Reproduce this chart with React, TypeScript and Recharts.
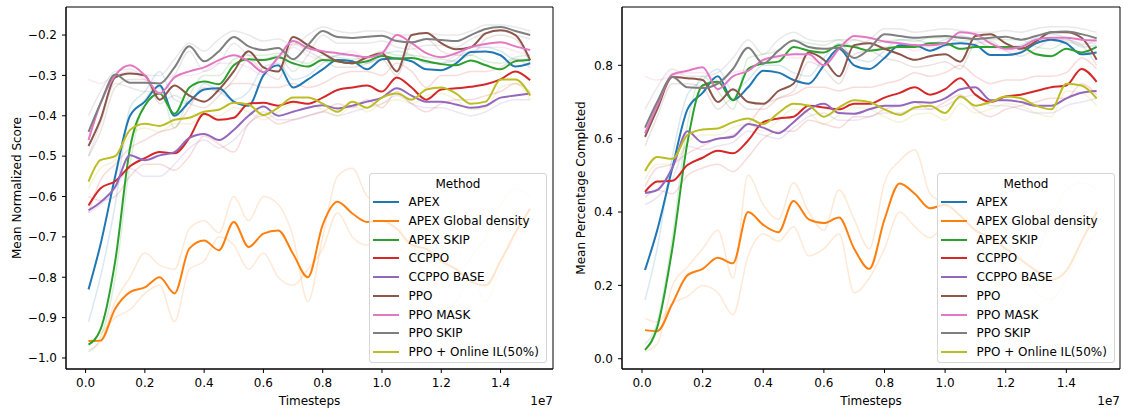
import { LineChart, Line, XAxis, YAxis, Legend, ReferenceArea } from "recharts";

const FONT = "DejaVu Sans, sans-serif";

const TIMESTEPS = [0.01, 0.05, 0.1, 0.15, 0.2, 0.25, 0.3, 0.35, 0.4, 0.45, 0.5, 0.55, 0.6, 0.65, 0.7, 0.75, 0.8, 0.85, 0.9, 0.95, 1.0, 1.05, 1.1, 1.15, 1.2, 1.25, 1.3, 1.35, 1.4, 1.45, 1.5];
const X_TICKS = [0, 0.2, 0.4, 0.6, 0.8, 1.0, 1.2, 1.4];
const X_DOMAIN = [-0.066, 1.577];
const SCORE_TICKS = [-1.0, -0.9, -0.8, -0.7, -0.6, -0.5, -0.4, -0.3, -0.2];
const PCT_TICKS = [0, 0.2, 0.4, 0.6, 0.8];

const METHODS = ["APEX", "APEX Global density", "APEX SKIP", "CCPPO", "CCPPO BASE", "PPO", "PPO MASK", "PPO SKIP", "PPO + Online IL(50%)"];
const COLORS = ["#1f77b4", "#ff7f0e", "#2ca02c", "#d62728", "#9467bd", "#8c564b", "#e377c2", "#7f7f7f", "#bcbd22"];

// Mean Normalized Score (left), smoothed mean per method
const SCORE_APEX = [-0.83, -0.72, -0.55, -0.40, -0.365, -0.325, -0.40, -0.365, -0.335, -0.332, -0.365, -0.375, -0.30, -0.275, -0.33, -0.31, -0.285, -0.262, -0.265, -0.285, -0.26, -0.258, -0.265, -0.285, -0.287, -0.27, -0.242, -0.241, -0.25, -0.278, -0.27];
const SCORE_APEX_GLOBAL = [-0.958, -0.957, -0.878, -0.837, -0.825, -0.80, -0.84, -0.729, -0.709, -0.733, -0.663, -0.725, -0.692, -0.684, -0.742, -0.80, -0.67, -0.613, -0.642, -0.663, -0.66, -0.68, -0.72, -0.73, -0.76, -0.78, -0.81, -0.82, -0.76, -0.69, -0.63];
const SCORE_APEX_SKIP = [-0.967, -0.93, -0.76, -0.48, -0.375, -0.345, -0.395, -0.33, -0.315, -0.322, -0.275, -0.26, -0.262, -0.255, -0.27, -0.278, -0.262, -0.265, -0.27, -0.265, -0.252, -0.258, -0.257, -0.265, -0.272, -0.275, -0.263, -0.275, -0.285, -0.265, -0.262];
const SCORE_CCPPO = [-0.622, -0.58, -0.562, -0.525, -0.505, -0.49, -0.493, -0.455, -0.395, -0.41, -0.405, -0.37, -0.368, -0.375, -0.365, -0.37, -0.355, -0.336, -0.33, -0.325, -0.34, -0.305, -0.33, -0.36, -0.335, -0.332, -0.328, -0.322, -0.31, -0.29, -0.312];
const SCORE_CCPPO_BASE = [-0.634, -0.614, -0.576, -0.498, -0.51, -0.498, -0.49, -0.455, -0.445, -0.46, -0.435, -0.40, -0.377, -0.40, -0.39, -0.38, -0.374, -0.382, -0.375, -0.365, -0.355, -0.332, -0.35, -0.365, -0.365, -0.372, -0.38, -0.375, -0.355, -0.35, -0.345];
const SCORE_PPO = [-0.475, -0.41, -0.305, -0.295, -0.30, -0.36, -0.325, -0.35, -0.365, -0.335, -0.29, -0.24, -0.28, -0.29, -0.205, -0.225, -0.245, -0.265, -0.27, -0.255, -0.245, -0.29, -0.20, -0.195, -0.22, -0.235, -0.23, -0.196, -0.188, -0.20, -0.262];
const SCORE_PPO_MASK = [-0.46, -0.37, -0.30, -0.275, -0.30, -0.345, -0.305, -0.29, -0.28, -0.262, -0.25, -0.265, -0.292, -0.255, -0.215, -0.232, -0.24, -0.245, -0.25, -0.255, -0.245, -0.20, -0.22, -0.245, -0.255, -0.245, -0.23, -0.222, -0.218, -0.228, -0.237];
const SCORE_PPO_SKIP = [-0.44, -0.37, -0.298, -0.318, -0.318, -0.32, -0.28, -0.228, -0.265, -0.24, -0.205, -0.228, -0.237, -0.232, -0.26, -0.225, -0.19, -0.205, -0.207, -0.204, -0.202, -0.215, -0.218, -0.21, -0.212, -0.215, -0.2, -0.185, -0.18, -0.19, -0.2];
const SCORE_PPO_IL = [-0.563, -0.51, -0.50, -0.435, -0.42, -0.425, -0.41, -0.405, -0.39, -0.385, -0.368, -0.372, -0.398, -0.38, -0.355, -0.355, -0.37, -0.39, -0.365, -0.38, -0.355, -0.345, -0.36, -0.335, -0.33, -0.345, -0.37, -0.365, -0.31, -0.31, -0.35];

// individual runs, drawn faint
const SCORE_GLOBAL_RUN_A = [-0.98, -0.96, -0.86, -0.80, -0.74, -0.77, -0.78, -0.68, -0.66, -0.69, -0.60, -0.66, -0.60, -0.62, -0.70, -0.86, -0.70, -0.55, -0.53, -0.60, -0.62, -0.66, -0.74, -0.76, -0.78, -0.80, -0.75, -0.70, -0.62, -0.58, -0.60];
const SCORE_GLOBAL_RUN_B = [-0.96, -0.94, -0.90, -0.88, -0.84, -0.82, -0.91, -0.78, -0.76, -0.70, -0.72, -0.78, -0.74, -0.80, -0.82, -0.78, -0.73, -0.64, -0.70, -0.72, -0.68, -0.74, -0.70, -0.84, -0.88, -0.86, -0.80, -0.86, -0.78, -0.70, -0.68];
const SCORE_SKIP_RUN_A = [-0.40, -0.34, -0.29, -0.285, -0.30, -0.30, -0.26, -0.22, -0.24, -0.21, -0.19, -0.20, -0.215, -0.21, -0.225, -0.20, -0.18, -0.19, -0.195, -0.19, -0.19, -0.20, -0.2, -0.195, -0.2, -0.2, -0.19, -0.175, -0.175, -0.18, -0.19];
const SCORE_SKIP_RUN_B = [-0.50, -0.42, -0.32, -0.33, -0.34, -0.34, -0.30, -0.24, -0.29, -0.27, -0.22, -0.25, -0.26, -0.25, -0.29, -0.25, -0.2, -0.22, -0.22, -0.22, -0.215, -0.23, -0.235, -0.225, -0.225, -0.23, -0.21, -0.195, -0.19, -0.2, -0.21];
const SCORE_MASK_RUN = [-0.31, -0.32, -0.30, -0.29, -0.31, -0.32, -0.30, -0.30, -0.29, -0.27, -0.27, -0.28, -0.30, -0.26, -0.23, -0.25, -0.26, -0.25, -0.24, -0.26, -0.25, -0.21, -0.23, -0.26, -0.27, -0.25, -0.24, -0.23, -0.23, -0.24, -0.25];
const SCORE_CCPPO_RUN_A = [-0.60, -0.61, -0.60, -0.55, -0.52, -0.52, -0.535, -0.50, -0.45, -0.47, -0.49, -0.42, -0.40, -0.42, -0.41, -0.40, -0.39, -0.37, -0.38, -0.36, -0.38, -0.34, -0.37, -0.39, -0.37, -0.36, -0.36, -0.35, -0.34, -0.32, -0.34];
const SCORE_CCPPO_RUN_B = [-0.64, -0.56, -0.52, -0.48, -0.46, -0.44, -0.43, -0.38, -0.33, -0.34, -0.32, -0.32, -0.33, -0.33, -0.32, -0.33, -0.32, -0.30, -0.29, -0.29, -0.30, -0.27, -0.29, -0.33, -0.30, -0.30, -0.29, -0.29, -0.28, -0.26, -0.28];
const SCORE_APEX_RUN = [-0.91, -0.80, -0.62, -0.38, -0.34, -0.29, -0.36, -0.37, -0.32, -0.34, -0.36, -0.34, -0.28, -0.27, -0.31, -0.30, -0.27, -0.25, -0.25, -0.27, -0.25, -0.24, -0.25, -0.27, -0.27, -0.26, -0.23, -0.23, -0.24, -0.26, -0.26];
const SCORE_BASE_RUN = [-0.64, -0.62, -0.58, -0.53, -0.55, -0.55, -0.52, -0.48, -0.46, -0.48, -0.46, -0.42, -0.39, -0.41, -0.41, -0.40, -0.39, -0.40, -0.39, -0.38, -0.37, -0.35, -0.37, -0.38, -0.38, -0.39, -0.40, -0.39, -0.37, -0.36, -0.36];
const SCORE_APEX_SKIP_RUN = [-0.985, -0.95, -0.80, -0.52, -0.36, -0.33, -0.43, -0.35, -0.30, -0.30, -0.26, -0.25, -0.25, -0.245, -0.26, -0.27, -0.25, -0.255, -0.26, -0.255, -0.24, -0.25, -0.25, -0.255, -0.26, -0.265, -0.25, -0.265, -0.27, -0.255, -0.25];
const SCORE_IL_RUN = [-0.58, -0.53, -0.51, -0.45, -0.43, -0.44, -0.42, -0.42, -0.40, -0.40, -0.38, -0.39, -0.41, -0.39, -0.37, -0.37, -0.385, -0.40, -0.375, -0.39, -0.37, -0.36, -0.37, -0.35, -0.345, -0.36, -0.385, -0.38, -0.33, -0.32, -0.36];
const SCORE_PPO_RUN = [-0.50, -0.44, -0.33, -0.31, -0.31, -0.37, -0.35, -0.37, -0.38, -0.35, -0.31, -0.26, -0.29, -0.31, -0.22, -0.24, -0.26, -0.28, -0.28, -0.27, -0.26, -0.30, -0.22, -0.21, -0.24, -0.25, -0.25, -0.21, -0.2, -0.21, -0.27];

// Mean Percentage Completed (right)
const PCT_APEX = [0.242, 0.35, 0.52, 0.68, 0.725, 0.77, 0.705, 0.74, 0.785, 0.78, 0.76, 0.75, 0.80, 0.845, 0.80, 0.79, 0.82, 0.855, 0.855, 0.84, 0.855, 0.86, 0.855, 0.828, 0.828, 0.835, 0.86, 0.87, 0.86, 0.83, 0.835];
const PCT_APEX_GLOBAL = [0.078, 0.075, 0.15, 0.228, 0.245, 0.275, 0.26, 0.40, 0.365, 0.345, 0.43, 0.38, 0.37, 0.385, 0.30, 0.245, 0.38, 0.478, 0.45, 0.41, 0.42, 0.39, 0.35, 0.33, 0.30, 0.27, 0.24, 0.215, 0.24, 0.32, 0.40];
const PCT_APEX_SKIP = [0.024, 0.085, 0.30, 0.59, 0.745, 0.755, 0.705, 0.79, 0.805, 0.81, 0.85, 0.84, 0.835, 0.855, 0.85, 0.84, 0.845, 0.85, 0.85, 0.86, 0.86, 0.845, 0.85, 0.85, 0.85, 0.85, 0.83, 0.825, 0.845, 0.835, 0.85];
const PCT_CCPPO = [0.455, 0.483, 0.485, 0.528, 0.548, 0.567, 0.56, 0.595, 0.645, 0.655, 0.66, 0.69, 0.685, 0.68, 0.695, 0.695, 0.712, 0.725, 0.74, 0.72, 0.735, 0.765, 0.72, 0.70, 0.715, 0.72, 0.73, 0.74, 0.745, 0.79, 0.755];
const PCT_CCPPO_BASE = [0.452, 0.46, 0.52, 0.62, 0.59, 0.60, 0.605, 0.64, 0.63, 0.615, 0.645, 0.68, 0.695, 0.67, 0.668, 0.68, 0.69, 0.69, 0.70, 0.698, 0.71, 0.735, 0.74, 0.705, 0.705, 0.70, 0.69, 0.69, 0.71, 0.725, 0.73];
const PCT_PPO = [0.605, 0.68, 0.768, 0.765, 0.76, 0.70, 0.735, 0.70, 0.695, 0.73, 0.75, 0.835, 0.815, 0.77, 0.855, 0.86, 0.845, 0.83, 0.815, 0.825, 0.83, 0.81, 0.88, 0.885, 0.86, 0.845, 0.865, 0.89, 0.89, 0.875, 0.815];
const PCT_PPO_MASK = [0.615, 0.69, 0.775, 0.785, 0.795, 0.735, 0.77, 0.785, 0.815, 0.825, 0.83, 0.83, 0.80, 0.845, 0.88, 0.875, 0.865, 0.86, 0.855, 0.855, 0.86, 0.89, 0.885, 0.86, 0.845, 0.85, 0.87, 0.875, 0.875, 0.87, 0.868];
const PCT_PPO_SKIP = [0.63, 0.70, 0.768, 0.74, 0.738, 0.75, 0.79, 0.848, 0.805, 0.84, 0.868, 0.85, 0.845, 0.848, 0.82, 0.845, 0.885, 0.88, 0.875, 0.878, 0.88, 0.875, 0.872, 0.875, 0.878, 0.87, 0.88, 0.89, 0.892, 0.885, 0.874];
const PCT_PPO_IL = [0.512, 0.55, 0.545, 0.61, 0.625, 0.628, 0.645, 0.655, 0.64, 0.67, 0.695, 0.69, 0.66, 0.685, 0.705, 0.70, 0.68, 0.665, 0.685, 0.69, 0.67, 0.715, 0.69, 0.70, 0.715, 0.71, 0.69, 0.68, 0.75, 0.745, 0.71];

const PCT_GLOBAL_RUN_A = [0.02, 0.04, 0.20, 0.25, 0.30, 0.35, 0.22, 0.50, 0.42, 0.38, 0.48, 0.40, 0.35, 0.46, 0.38, 0.30, 0.48, 0.54, 0.57, 0.45, 0.42, 0.36, 0.30, 0.28, 0.25, 0.22, 0.28, 0.38, 0.46, 0.48, 0.46];
const PCT_GLOBAL_RUN_B = [0.11, 0.10, 0.15, 0.17, 0.20, 0.18, 0.12, 0.28, 0.34, 0.32, 0.36, 0.28, 0.30, 0.34, 0.18, 0.22, 0.30, 0.40, 0.36, 0.33, 0.36, 0.30, 0.26, 0.22, 0.20, 0.22, 0.18, 0.16, 0.22, 0.30, 0.34];
const PCT_SKIP_RUN = [0.68, 0.74, 0.79, 0.77, 0.77, 0.78, 0.82, 0.87, 0.83, 0.87, 0.89, 0.87, 0.865, 0.87, 0.85, 0.87, 0.9, 0.9, 0.89, 0.895, 0.9, 0.895, 0.89, 0.89, 0.895, 0.89, 0.9, 0.905, 0.905, 0.9, 0.89];
const PCT_MASK_RUN = [0.77, 0.76, 0.77, 0.78, 0.78, 0.76, 0.78, 0.79, 0.81, 0.82, 0.82, 0.82, 0.80, 0.84, 0.87, 0.86, 0.85, 0.85, 0.84, 0.85, 0.85, 0.88, 0.87, 0.85, 0.84, 0.84, 0.86, 0.87, 0.87, 0.86, 0.86];
const PCT_CCPPO_RUN_A = [0.44, 0.46, 0.45, 0.50, 0.52, 0.53, 0.51, 0.55, 0.60, 0.62, 0.62, 0.65, 0.64, 0.63, 0.66, 0.66, 0.68, 0.69, 0.70, 0.68, 0.70, 0.72, 0.68, 0.66, 0.68, 0.69, 0.70, 0.71, 0.71, 0.75, 0.72];
const PCT_CCPPO_RUN_B = [0.47, 0.52, 0.53, 0.56, 0.58, 0.60, 0.61, 0.64, 0.69, 0.71, 0.72, 0.74, 0.74, 0.73, 0.74, 0.74, 0.75, 0.76, 0.78, 0.77, 0.78, 0.80, 0.77, 0.75, 0.76, 0.76, 0.77, 0.77, 0.78, 0.82, 0.79];
const PCT_APEX_RUN = [0.16, 0.30, 0.55, 0.72, 0.76, 0.79, 0.73, 0.76, 0.80, 0.80, 0.78, 0.77, 0.82, 0.86, 0.82, 0.81, 0.84, 0.87, 0.87, 0.86, 0.87, 0.88, 0.87, 0.85, 0.85, 0.855, 0.875, 0.885, 0.875, 0.85, 0.855];
const PCT_APEX_SKIP_RUN = [0.04, 0.10, 0.33, 0.64, 0.77, 0.73, 0.68, 0.82, 0.83, 0.84, 0.87, 0.86, 0.855, 0.87, 0.87, 0.86, 0.865, 0.87, 0.865, 0.875, 0.875, 0.865, 0.87, 0.87, 0.87, 0.87, 0.85, 0.845, 0.865, 0.855, 0.87];
const PCT_BASE_RUN = [0.42, 0.44, 0.49, 0.58, 0.57, 0.58, 0.59, 0.62, 0.61, 0.60, 0.63, 0.66, 0.67, 0.65, 0.65, 0.66, 0.67, 0.67, 0.68, 0.68, 0.69, 0.71, 0.72, 0.69, 0.69, 0.68, 0.67, 0.67, 0.69, 0.70, 0.71];
const PCT_IL_RUN = [0.49, 0.53, 0.53, 0.59, 0.61, 0.61, 0.63, 0.64, 0.62, 0.65, 0.68, 0.67, 0.64, 0.665, 0.685, 0.68, 0.66, 0.645, 0.665, 0.67, 0.65, 0.695, 0.67, 0.68, 0.695, 0.69, 0.67, 0.66, 0.73, 0.725, 0.69];
const PCT_PPO_RUN = [0.58, 0.66, 0.75, 0.75, 0.74, 0.68, 0.71, 0.68, 0.68, 0.71, 0.73, 0.81, 0.79, 0.75, 0.83, 0.84, 0.82, 0.81, 0.795, 0.80, 0.81, 0.79, 0.86, 0.865, 0.84, 0.825, 0.845, 0.87, 0.87, 0.855, 0.80];

const SCORE_SERIES = [SCORE_APEX, SCORE_APEX_GLOBAL, SCORE_APEX_SKIP, SCORE_CCPPO, SCORE_CCPPO_BASE, SCORE_PPO, SCORE_PPO_MASK, SCORE_PPO_SKIP, SCORE_PPO_IL];
const SCORE_RUNS = [
  { method: 0, values: SCORE_APEX_RUN },
  { method: 1, values: SCORE_GLOBAL_RUN_A },
  { method: 1, values: SCORE_GLOBAL_RUN_B },
  { method: 2, values: SCORE_APEX_SKIP_RUN },
  { method: 3, values: SCORE_CCPPO_RUN_A },
  { method: 3, values: SCORE_CCPPO_RUN_B },
  { method: 4, values: SCORE_BASE_RUN },
  { method: 5, values: SCORE_PPO_RUN },
  { method: 6, values: SCORE_MASK_RUN },
  { method: 7, values: SCORE_SKIP_RUN_A },
  { method: 7, values: SCORE_SKIP_RUN_B },
  { method: 8, values: SCORE_IL_RUN },
];
const PCT_SERIES = [PCT_APEX, PCT_APEX_GLOBAL, PCT_APEX_SKIP, PCT_CCPPO, PCT_CCPPO_BASE, PCT_PPO, PCT_PPO_MASK, PCT_PPO_SKIP, PCT_PPO_IL];
const PCT_RUNS = [
  { method: 0, values: PCT_APEX_RUN },
  { method: 1, values: PCT_GLOBAL_RUN_A },
  { method: 1, values: PCT_GLOBAL_RUN_B },
  { method: 2, values: PCT_APEX_SKIP_RUN },
  { method: 3, values: PCT_CCPPO_RUN_A },
  { method: 3, values: PCT_CCPPO_RUN_B },
  { method: 4, values: PCT_BASE_RUN },
  { method: 5, values: PCT_PPO_RUN },
  { method: 6, values: PCT_MASK_RUN },
  { method: 7, values: PCT_SKIP_RUN },
  { method: 8, values: PCT_IL_RUN },
];

const tickStyle = { fill: "#000", fontSize: 12, fontFamily: FONT };
const fmt = (v: number) => v.toFixed(1).replace("-", "\u2212");

function LegendBox() {
  return (
    <div
      style={{
        position: "relative",
        width: 178,
        height: 190,
        boxSizing: "border-box",
        border: "1px solid #d6d6d6",
        borderRadius: 3,
        background: "rgba(255,255,255,0.8)",
        fontFamily: FONT,
        fontSize: 12,
        color: "#000",
      }}
    >
      <div style={{ position: "absolute", top: 2, left: 0, width: "100%", textAlign: "center", lineHeight: "16px" }}>
        Method
      </div>
      {METHODS.map((m, i) => (
        <div key={m} style={{ position: "absolute", left: 0, top: 20.3 + i * 18.7, height: 16, width: "100%" }}>
          <span style={{ position: "absolute", left: 3, top: 7, width: 26, height: 2, background: COLORS[i] }} />
          <span style={{ position: "absolute", left: 38.5, top: 0, lineHeight: "16px", whiteSpace: "nowrap" }}>{m}</span>
        </div>
      ))}
    </div>
  );
}

interface PanelProps {
  series: number[][];
  runs: { method: number; values: number[] }[];
  yDomain: number[];
  yTicks: number[];
  yLabel: string;
  yLabelX: number;
  width: number;
  yAxisWidth: number;
  marginRight: number;
  legendLeft: number;
}

function Panel({ series, runs, yDomain, yTicks, yLabel, yLabelX, width, yAxisWidth, marginRight, legendLeft }: PanelProps) {
  const rows = TIMESTEPS.map((t, i) => {
    const row: Record<string, number> = { t };
    series.forEach((s, k) => {
      row[`m${k}`] = s[i];
    });
    runs.forEach((r, k) => {
      row[`r${k}`] = r.values[i];
    });
    return row;
  });
  const plotLeft = yAxisWidth;
  const plotRight = width - marginRight;
  const plotMid = (plotLeft + plotRight) / 2;

  return (
    <LineChart width={width} height={409} data={rows} margin={{ top: 7, right: marginRight, bottom: 0, left: 0 }}>
      <XAxis
        dataKey="t"
        type="number"
        domain={X_DOMAIN}
        allowDataOverflow
        ticks={X_TICKS}
        interval={0}
        tickFormatter={fmt}
        tick={tickStyle}
        tickSize={4}
        tickMargin={5}
        height={40}
        stroke="#000"
        label={{
          content: () => (
            <g>
              <text x={plotMid} y={405} textAnchor="middle" fontSize={12} fontFamily={FONT} fill="#000">
                Timesteps
              </text>
              <text x={plotRight} y={405} textAnchor="end" fontSize={12} fontFamily={FONT} fill="#000">
                1e7
              </text>
            </g>
          ),
        }}
      />
      <YAxis
        type="number"
        domain={yDomain}
        allowDataOverflow
        ticks={yTicks}
        interval={0}
        tickFormatter={fmt}
        tick={tickStyle}
        tickSize={4}
        tickMargin={5}
        width={yAxisWidth}
        stroke="#000"
        label={{
          content: () => (
            <text
              x={yLabelX}
              y={188}
              transform={`rotate(-90, ${yLabelX}, 188)`}
              textAnchor="middle"
              fontSize={12}
              fontFamily={FONT}
              fill="#000"
            >
              {yLabel}
            </text>
          ),
        }}
      />
      {runs.map((r, k) => (
        <Line
          key={`r${k}`}
          dataKey={`r${k}`}
          type="monotone"
          stroke={COLORS[r.method]}
          strokeOpacity={0.17}
          strokeWidth={1.5}
          dot={false}
          activeDot={false}
          legendType="none"
          isAnimationActive={false}
        />
      ))}
      {series.map((_, k) => (
        <Line
          key={`m${k}`}
          dataKey={`m${k}`}
          name={METHODS[k]}
          type="monotone"
          stroke={COLORS[k]}
          strokeWidth={2}
          dot={false}
          activeDot={false}
          isAnimationActive={false}
        />
      ))}
      <ReferenceArea
        x1={X_DOMAIN[0]}
        x2={X_DOMAIN[1]}
        y1={yDomain[0]}
        y2={yDomain[1]}
        fill="none"
        fillOpacity={0}
        stroke="#000"
        strokeWidth={1}
        ifOverflow="visible"
      />
      <Legend
        layout="vertical"
        align="center"
        verticalAlign="middle"
        content={() => <LegendBox />}
        wrapperStyle={{ left: legendLeft, top: 173, width: 178, height: 190, right: "auto", bottom: "auto" }}
      />
    </LineChart>
  );
}

export default function App() {
  return (
    <div style={{ position: "absolute", left: 0, top: 0, width: 1124, height: 409, background: "#fff", fontFamily: FONT }}>
      <div style={{ position: "absolute", left: 0, top: 0 }}>
        <Panel
          series={SCORE_SERIES}
          runs={SCORE_RUNS}
          yDomain={[-1.0273, -0.1305]}
          yTicks={SCORE_TICKS}
          yLabel="Mean Normalized Score"
          yLabelX={20.5}
          width={560}
          yAxisWidth={66}
          marginRight={7}
          legendLeft={369}
        />
      </div>
      <div style={{ position: "absolute", left: 560, top: 0 }}>
        <Panel
          series={PCT_SERIES}
          runs={PCT_RUNS}
          yDomain={[-0.028, 0.959]}
          yTicks={PCT_TICKS}
          yLabel="Mean Percentage Completed"
          yLabelX={25}
          width={564}
          yAxisWidth={62}
          marginRight={4}
          legendLeft={377}
        />
      </div>
    </div>
  );
}
